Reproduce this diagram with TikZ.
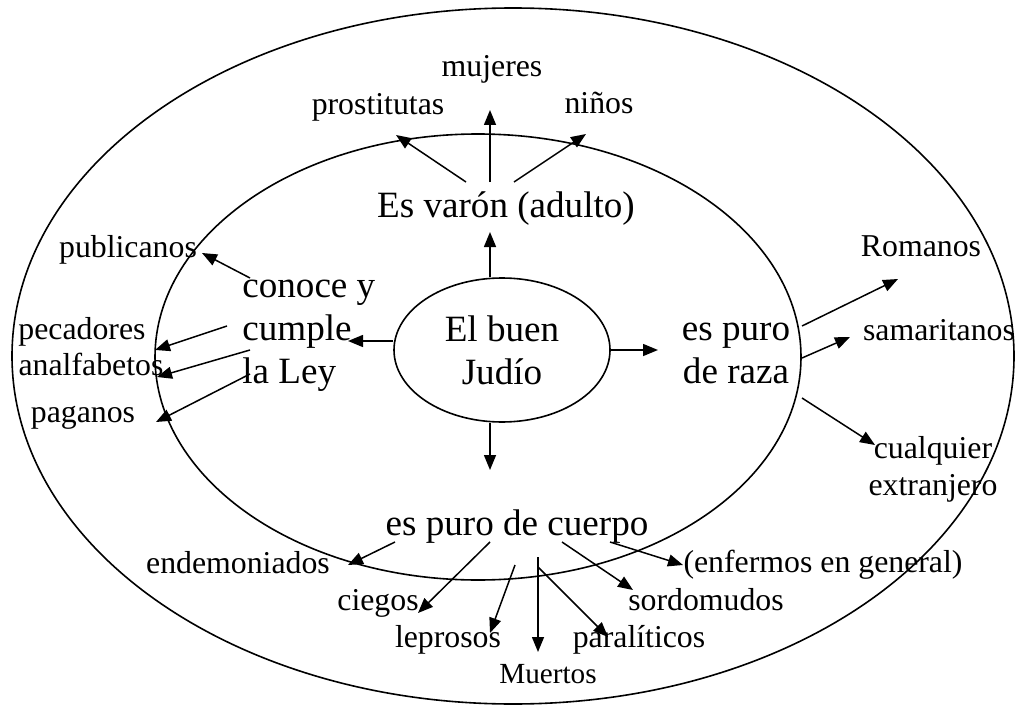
\documentclass[tikz,border=0pt]{standalone}
\usepackage{fontspec}
\setmainfont{Liberation Serif}
\usetikzlibrary{arrows.meta}
\usetikzlibrary{shapes.geometric}

\begin{document}
\begin{tikzpicture}[x=0.5pt,y=-0.5pt,
	lab/.style={anchor=base,inner sep=0pt,font=\fontsize{15.9}{18.5}\selectfont},
	big/.style={anchor=base,inner sep=0pt,font=\fontsize{18.55}{21.5}\selectfont},
	arr/.style={line width=0.75pt,-{Triangle[length=7.5pt,width=6pt]}}]
\useasboundingbox (0,0) rectangle (1017,706);
		\draw[line width=0.8pt] (513,356) ellipse [x radius=501,y radius=348];
		\draw[line width=0.8pt] (478,357) ellipse [x radius=323,y radius=223];
		\node[draw,ellipse,line width=0.8pt,minimum width=108pt,minimum height=72pt,inner sep=0pt,
			align=center,font=\fontsize{18.55}{21.5}\selectfont] (judio) at (502,350) {El buen\\Judío};
		\node[big,anchor=base west,align=left] (ley) at (242,383) {conoce y\\cumple\\la Ley};
		\node[big,align=center] (raza) at (736,383) {es puro\\de raza};
		\node[big] (varon) at (506,217) {Es varón (adulto)};
		\node[big] (cuerpo) at (517,535) {es puro de cuerpo};
		\node[lab] (mujeres) at (492,77) {mujeres};
		\node[lab] (prost) at (378,115) {prostitutas};
		\node[lab] (ninos) at (599,114) {niños};
		\node[lab] (publ) at (128,257) {publicanos};
		\node[lab] (pecad) at (82,339) {pecadores};
		\node[lab] (analf) at (91,375) {analfabetos};
		\node[lab] (pagan) at (83,422) {paganos};
		\node[lab] (roman) at (921,256) {Romanos};
		\node[lab] (samar) at (939,340) {samaritanos};
		\node[lab,align=center] (extr) at (933,495) {cualquier\\extranjero};
		\node[lab] (endem) at (238,573) {endemoniados};
		\node[lab] (ciegos) at (378,610) {ciegos};
		\node[lab] (lepr) at (448,647) {leprosos};
		\node[lab,font=\fontsize{14.6}{17}\selectfont] (muert) at (548,683) {Muertos};
		\node[lab] (paral) at (639,647) {paralíticos};
		\node[lab] (sordo) at (706,610) {sordomudos};
		\node[lab] (enferm) at (823,572) {(enfermos en general)};
		% from the centre
		\coordinate (Up) at (490,232);
		\coordinate (Lt) at (348,341);
		\coordinate (Rt) at (658,350);
		\coordinate (Dn) at (490,470);
		\draw[arr] (judio.north -| Up) -- (Up);
		\draw[arr] (judio.west |- Lt) -- (Lt);
		\draw[arr] (judio.east) -- (Rt);
		\draw[arr] (judio.south -| Dn) -- (Dn);
		% Es varon
		\coordinate (V1) at (466,182);
		\coordinate (V2) at (490,182);
		\coordinate (V3) at (514,182);
		\coordinate (Prost) at (396,135);
		\coordinate (Mujer) at (490,110);
		\coordinate (Nino) at (586,134);
		\draw[arr] (V1) -- (Prost);
		\draw[arr] (V2) -- (Mujer);
		\draw[arr] (V3) -- (Nino);
		% la Ley
		\coordinate (L1) at (250,278);
		\coordinate (L2) at (227,326);
		\coordinate (L3) at (250,350);
		\coordinate (L4) at (250,374);
		\coordinate (Publ) at (202,253);
		\coordinate (Pecad) at (155,350);
		\coordinate (Analf) at (157,377);
		\coordinate (Pagan) at (156,422);
		\draw[arr] (L1) -- (Publ);
		\draw[arr] (L2) -- (Pecad);
		\draw[arr] (L3) -- (Analf);
		\draw[arr] (L4) -- (Pagan);
		% de raza
		\coordinate (R1) at (802,326);
		\coordinate (R2) at (802,358);
		\coordinate (R3) at (802,398);
		\coordinate (Roman) at (898,279);
		\coordinate (Samar) at (850,337);
		\coordinate (Extr) at (875,445);
		\draw[arr] (R1) -- (Roman);
		\draw[arr] (R2) -- (Samar);
		\draw[arr] (R3) -- (Extr);
		% de cuerpo
		\coordinate (C1) at (395,542);
		\coordinate (C2) at (490,542);
		\coordinate (C3) at (515,565);
		\coordinate (C4) at (538,557);
		\coordinate (C5) at (538,567);
		\coordinate (C6) at (562,542);
		\coordinate (C7) at (610,542);
		\coordinate (Endem) at (348,565);
		\coordinate (Ciego) at (418,613);
		\coordinate (Lepr) at (490,633);
		\coordinate (Muert) at (538,652);
		\coordinate (Paral) at (608,637);
		\coordinate (Sordo) at (633,590);
		\coordinate (Enferm) at (683,565);
		\draw[arr] (C1) -- (Endem);
		\draw[arr] (C2) -- (Ciego);
		\draw[arr] (C3) -- (Lepr);
		\draw[arr] (C4) -- (Muert);
		\draw[arr] (C5) -- (Paral);
		\draw[arr] (C6) -- (Sordo);
		\draw[arr] (C7) -- (Enferm);
\end{tikzpicture}
\end{document}
